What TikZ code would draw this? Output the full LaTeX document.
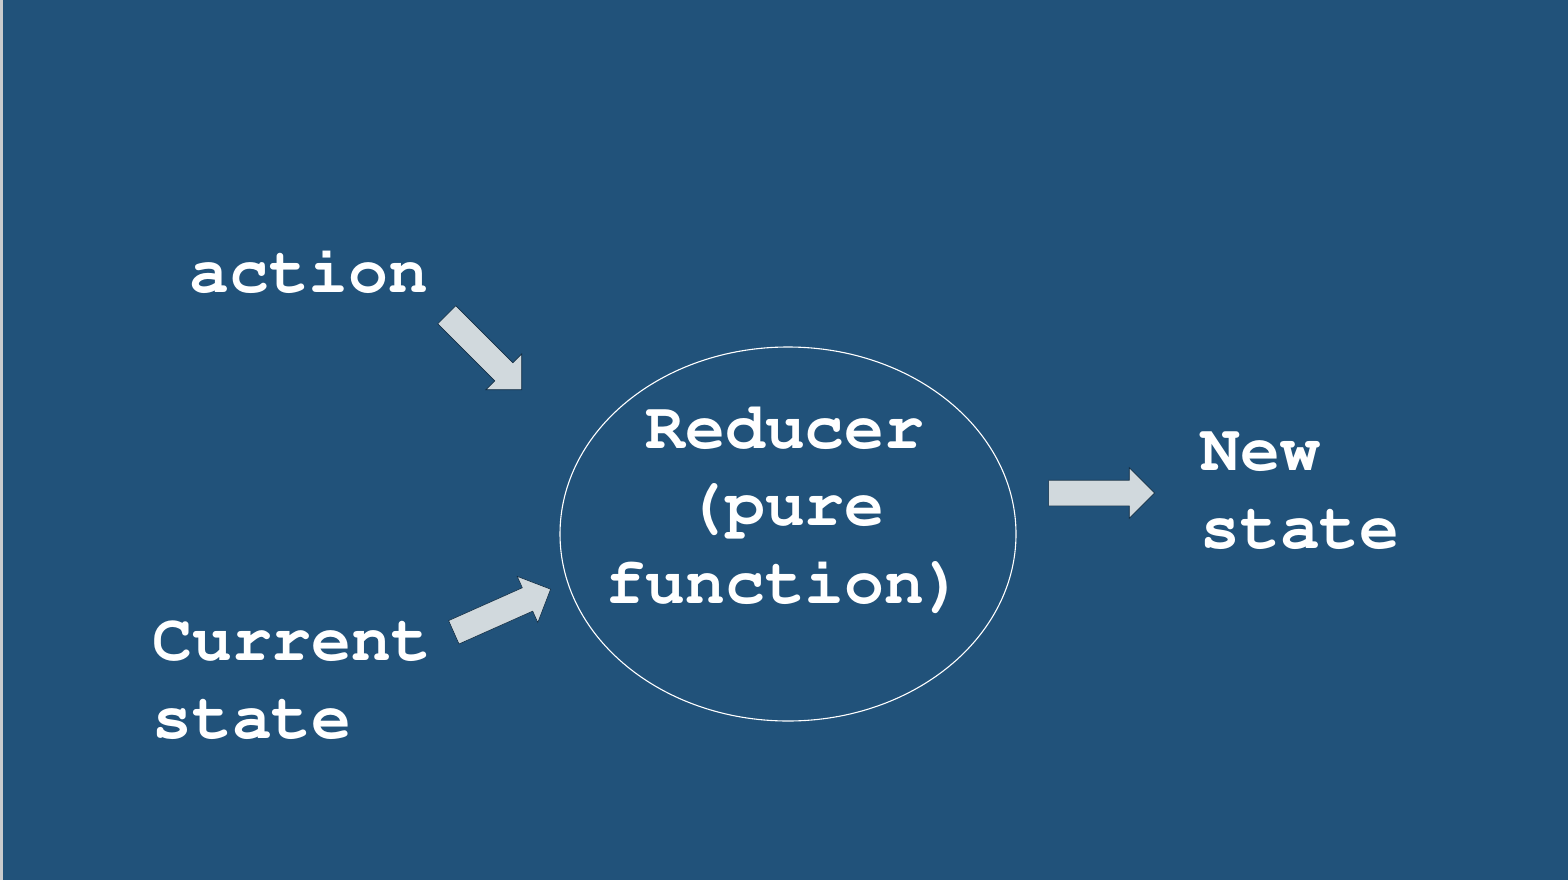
\documentclass[tikz,border=0pt]{standalone}
\usepackage[T1]{fontenc}
\usepackage{courier}
\usetikzlibrary{shapes.arrows}
\definecolor{slideblue}{HTML}{21527A}
\definecolor{arrowgrey}{HTML}{D1D9DD}
\definecolor{edgegrey}{HTML}{C9CBCD}
\tikzset{
  label text/.style={text=white, inner sep=0pt, align=left,
    font=\ttfamily\bfseries\fontsize{66.5}{77.5}\selectfont},
  fatarrow/.style={single arrow, fill=arrowgrey, draw=black!45!slideblue,
    line width=0.6pt, inner sep=0pt, inner ysep=12.5pt,
    single arrow head extend=12.5pt, minimum height=106pt, anchor=tip}
}
\begin{document}
\begin{tikzpicture}[x=1pt,y=-1pt]
  \fill[slideblue] (0,0) rectangle (1568,880);
  \fill[edgegrey] (0,0) rectangle (3,880);
  \useasboundingbox (0,0) rectangle (1568,880);
  % the reducer
  \draw[white, line width=1.1pt] (788,534) ellipse (228 and 187);
  \node[label text, align=center, anchor=base] (reducer) at (785,603)
    {Reducer\\(pure\\function)};
  % inputs and output (base = last line)
  \node[label text, anchor=base west] (action) at (189,292) {action};
  \node[label text, anchor=base west] (current) at (152,738) {Current\\state};
  \node[label text, anchor=base west] (newstate) at (1200,548) {New\\state};
  \node[fatarrow, rotate=-45] (actArrow) at (522,390) {};
  \node[fatarrow, rotate=24] (curArrow) at (551,589) {};
  \node[fatarrow] (newArrow) at (1155,493) {};
\end{tikzpicture}
\end{document}
